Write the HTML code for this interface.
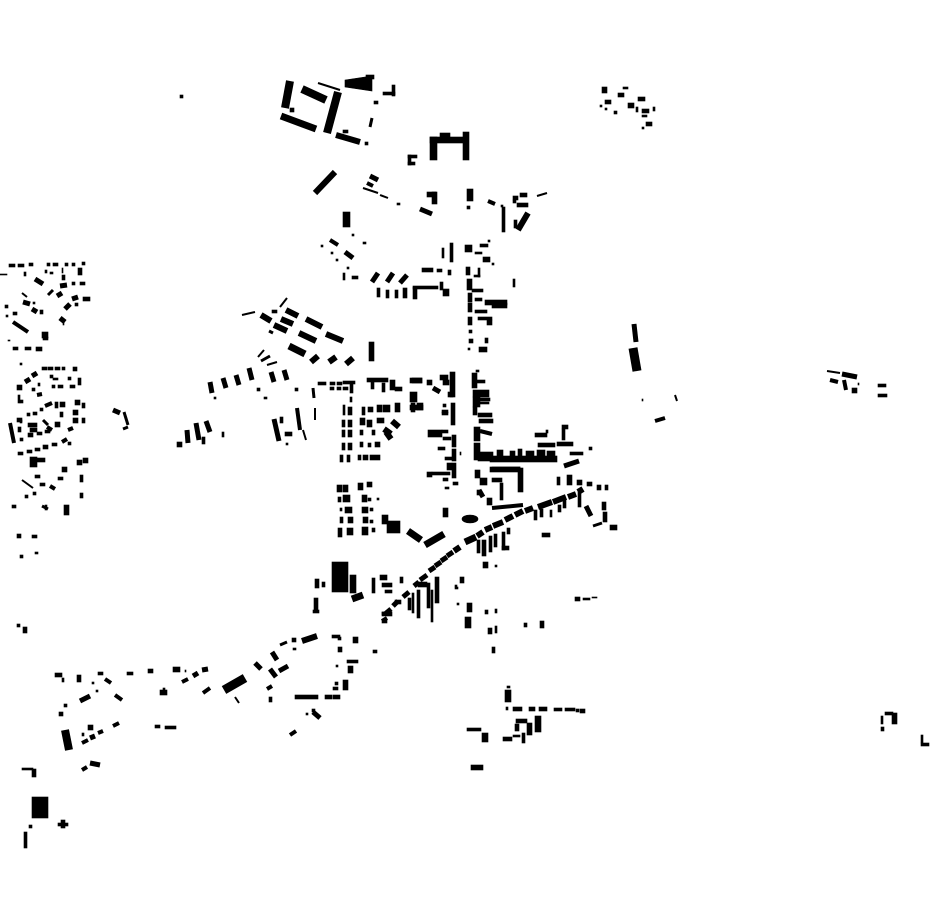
<!DOCTYPE html>
<html><head><meta charset="utf-8">
<style>html,body{margin:0;padding:0;background:#fff}svg{display:block}line{stroke:#000;stroke-linecap:butt}g.b rect,g.b polygon,g.b ellipse{stroke:#000;stroke-width:0.6}</style>
</head><body>
<svg width="930" height="924" viewBox="0 0 930 924" xmlns="http://www.w3.org/2000/svg">
<rect width="930" height="924" fill="#fff"/>
<g class="b" fill="#000">
<!-- top cluster -->
<rect x="180" y="95" width="3" height="3"/>
<line x1="290" y1="81" x2="285" y2="108" stroke-width="8"/>
<rect x="290" y="108" width="4" height="4"/>
<line x1="281" y1="116" x2="316" y2="129" stroke-width="7"/>
<line x1="302" y1="89" x2="326" y2="100" stroke-width="8"/>
<line x1="318" y1="83" x2="340" y2="90" stroke-width="2"/>
<line x1="338" y1="92" x2="327" y2="133" stroke-width="8"/>
<line x1="336" y1="135" x2="360" y2="142" stroke-width="6"/>
<rect x="343" y="130" width="5" height="3"/>
<rect x="365" y="142" width="3" height="3"/>
<polygon points="345,80 372,76 372,91 345,87"/>
<rect x="366" y="75" width="8" height="4"/>
<rect x="392" y="85" width="3" height="11"/>
<rect x="383" y="92" width="12" height="3"/>
<rect x="374" y="101" width="4" height="3"/>
<line x1="372" y1="118" x2="370" y2="127" stroke-width="3"/>
<rect x="430" y="137" width="7" height="23"/>
<rect x="430" y="137" width="35" height="6"/>
<rect x="440" y="133" width="10" height="5"/>
<rect x="463" y="132" width="6" height="28"/>
<rect x="408" y="155" width="3" height="10"/>
<rect x="408" y="155" width="9" height="3"/>
<rect x="408" y="162" width="7" height="3"/>
<line x1="315" y1="193" x2="335" y2="172" stroke-width="6"/>
<line x1="370" y1="176" x2="378" y2="180" stroke-width="5"/>
<line x1="367" y1="183" x2="373" y2="186" stroke-width="4"/>
<line x1="363" y1="188" x2="378" y2="193" stroke-width="2"/>
<line x1="380" y1="195" x2="388" y2="198" stroke-width="2"/>
<rect x="397" y="203" width="3" height="2"/>
<rect x="427" y="192" width="9" height="5"/>
<rect x="432" y="192" width="5" height="12"/>
<line x1="420" y1="209" x2="432" y2="214" stroke-width="5"/>
<rect x="467" y="189" width="6" height="12"/>
<rect x="467" y="206" width="3" height="3"/>
<line x1="488" y1="201" x2="495" y2="204" stroke-width="4"/>
<rect x="501" y="205" width="2" height="2"/>
<rect x="502" y="207" width="3" height="25"/>
<rect x="513" y="196" width="5" height="4"/>
<rect x="520" y="193" width="7" height="4"/>
<rect x="513" y="200" width="3" height="3"/>
<rect x="517" y="203" width="11" height="4"/>
<line x1="537" y1="196" x2="547" y2="193" stroke-width="2"/>
<line x1="518" y1="230" x2="528" y2="213" stroke-width="6"/>
<rect x="514" y="220" width="3" height="8"/>
<rect x="343" y="212" width="7" height="15"/>
<rect x="352" y="234" width="2" height="2"/>
<line x1="330" y1="240" x2="338" y2="245" stroke-width="4"/>
<rect x="321" y="245" width="2" height="2"/>
<line x1="345" y1="252" x2="353" y2="258" stroke-width="5"/>
<rect x="331" y="252" width="2" height="2"/>
<rect x="336" y="259" width="2" height="2"/>
<rect x="347" y="267" width="2" height="2"/>
<rect x="363" y="242" width="3" height="2"/>
<rect x="343" y="273" width="2" height="7"/>
<rect x="352" y="276" width="6" height="3"/>
<line x1="372" y1="282" x2="378" y2="273" stroke-width="5"/>
<line x1="387" y1="282" x2="393" y2="273" stroke-width="5"/>
<line x1="400" y1="283" x2="407" y2="275" stroke-width="5"/>
<rect x="377" y="288" width="3" height="9"/>
<rect x="386" y="290" width="3" height="8"/>
<rect x="395" y="290" width="3" height="8"/>
<rect x="403" y="288" width="4" height="10"/>
<rect x="413" y="287" width="4" height="12"/>
<rect x="413" y="286" width="25" height="3"/>
<rect x="440" y="282" width="3" height="8"/>
<rect x="443" y="289" width="6" height="7"/>
<!-- spine upper -->
<rect x="442" y="248" width="2" height="10"/>
<rect x="450" y="243" width="3" height="19"/>
<rect x="465" y="245" width="7" height="7"/>
<rect x="480" y="244" width="8" height="3"/>
<rect x="475" y="252" width="7" height="2"/>
<rect x="483" y="257" width="7" height="5"/>
<rect x="492" y="263" width="2" height="2"/>
<rect x="488" y="240" width="2" height="2"/>
<rect x="422" y="268" width="11" height="4"/>
<rect x="437" y="269" width="5" height="3"/>
<rect x="448" y="270" width="3" height="5"/>
<rect x="466" y="267" width="4" height="8"/>
<rect x="478" y="268" width="2" height="9"/>
<rect x="474" y="275" width="6" height="2"/>
<rect x="467" y="279" width="5" height="11"/>
<rect x="472" y="289" width="11" height="3"/>
<rect x="468" y="293" width="4" height="9"/>
<rect x="475" y="298" width="7" height="3"/>
<rect x="485" y="300" width="22" height="5"/>
<rect x="492" y="303" width="15" height="5"/>
<rect x="468" y="303" width="4" height="9"/>
<rect x="475" y="310" width="12" height="3"/>
<rect x="468" y="317" width="4" height="8"/>
<rect x="478" y="317" width="14" height="3"/>
<rect x="487" y="320" width="5" height="5"/>
<rect x="469" y="330" width="3" height="3"/>
<rect x="469" y="339" width="4" height="4"/>
<rect x="485" y="338" width="3" height="5"/>
<rect x="479" y="347" width="8" height="5"/>
<rect x="468" y="348" width="2" height="2"/>
<rect x="513" y="279" width="2" height="8"/>
<!-- spine lower -->
<rect x="472" y="373" width="5" height="15"/>
<rect x="476" y="370" width="3" height="2"/>
<rect x="477" y="380" width="8" height="3"/>
<rect x="473" y="390" width="16" height="7"/>
<rect x="473" y="397" width="7" height="10"/>
<rect x="480" y="398" width="10" height="3"/>
<rect x="477" y="402" width="12" height="2"/>
<rect x="473" y="407" width="4" height="8"/>
<rect x="478" y="413" width="14" height="4"/>
<rect x="479" y="419" width="14" height="4"/>
<rect x="474" y="427" width="6" height="14"/>
<line x1="480" y1="431" x2="492" y2="434" stroke-width="4"/>
<rect x="474" y="443" width="6" height="17"/>
<rect x="478" y="452" width="15" height="9"/>
<rect x="490" y="456" width="67" height="6"/>
<rect x="497" y="450" width="6" height="6"/>
<rect x="510" y="451" width="5" height="5"/>
<rect x="518" y="449" width="4" height="7"/>
<rect x="526" y="451" width="8" height="5"/>
<rect x="537" y="450" width="8" height="6"/>
<rect x="547" y="451" width="8" height="5"/>
<rect x="535" y="433" width="12" height="4"/>
<rect x="546" y="430" width="2" height="3"/>
<rect x="562" y="425" width="6" height="4"/>
<rect x="562" y="429" width="3" height="11"/>
<rect x="557" y="442" width="16" height="4"/>
<rect x="538" y="443" width="17" height="4"/>
<rect x="570" y="452" width="13" height="3"/>
<rect x="589" y="447" width="3" height="3"/>
<line x1="564" y1="466" x2="579" y2="461" stroke-width="5"/>
<rect x="492" y="467" width="28" height="3"/>
<!-- left of spine lower -->
<rect x="440" y="375" width="8" height="5"/>
<rect x="443" y="380" width="6" height="5"/>
<rect x="450" y="372" width="5" height="25"/>
<rect x="448" y="392" width="5" height="5"/>
<rect x="412" y="378" width="10" height="5"/>
<rect x="410" y="392" width="7" height="10"/>
<rect x="411" y="403" width="4" height="9"/>
<rect x="417" y="403" width="6" height="7"/>
<rect x="427" y="380" width="5" height="5"/>
<line x1="433" y1="388" x2="440" y2="392" stroke-width="5"/>
<rect x="442" y="412" width="6" height="3"/>
<rect x="451" y="403" width="4" height="22"/>
<rect x="443" y="404" width="3" height="3"/>
<rect x="442" y="410" width="6" height="3"/>
<rect x="428" y="430" width="14" height="7"/>
<rect x="442" y="430" width="6" height="3"/>
<rect x="443" y="437" width="8" height="3"/>
<rect x="452" y="435" width="4" height="12"/>
<rect x="452" y="449" width="4" height="12"/>
<rect x="452" y="463" width="4" height="15"/>
<rect x="438" y="447" width="7" height="3"/>
<rect x="445" y="457" width="8" height="3"/>
<rect x="460" y="452" width="1" height="3"/>
<rect x="447" y="463" width="5" height="7"/>
<rect x="427" y="472" width="5" height="5"/>
<rect x="432" y="472" width="18" height="3"/>
<rect x="443" y="478" width="5" height="3"/>
<rect x="445" y="487" width="4" height="2"/>
<rect x="453" y="482" width="5" height="3"/>
<rect x="443" y="508" width="5" height="9"/>
<rect x="475" y="470" width="5" height="8"/>
<rect x="477" y="490" width="3" height="5"/>
<!-- center block -->
<rect x="330" y="382" width="5" height="3"/>
<rect x="337" y="382" width="5" height="3"/>
<rect x="343" y="381" width="12" height="3"/>
<rect x="330" y="387" width="4" height="3"/>
<rect x="337" y="387" width="4" height="3"/>
<rect x="343" y="387" width="5" height="3"/>
<rect x="318" y="382" width="8" height="3"/>
<rect x="350" y="384" width="3" height="9"/>
<rect x="350" y="397" width="2" height="5"/>
<rect x="367" y="378" width="21" height="4"/>
<rect x="371" y="382" width="3" height="7"/>
<rect x="382" y="383" width="3" height="9"/>
<rect x="390" y="380" width="5" height="10"/>
<rect x="395" y="387" width="7" height="4"/>
<rect x="410" y="378" width="12" height="5"/>
<rect x="410" y="405" width="7" height="5"/>
<rect x="417" y="405" width="6" height="5"/>
<rect x="343" y="405" width="2" height="10"/>
<rect x="348" y="407" width="4" height="8"/>
<rect x="362" y="407" width="3" height="8"/>
<rect x="368" y="407" width="5" height="5"/>
<rect x="377" y="405" width="5" height="7"/>
<rect x="383" y="405" width="7" height="7"/>
<rect x="395" y="403" width="5" height="9"/>
<rect x="342" y="420" width="3" height="7"/>
<rect x="348" y="420" width="4" height="7"/>
<rect x="360" y="418" width="5" height="7"/>
<rect x="367" y="420" width="5" height="7"/>
<rect x="377" y="418" width="7" height="5"/>
<line x1="392" y1="421" x2="399" y2="427" stroke-width="6"/>
<line x1="384" y1="429" x2="391" y2="434" stroke-width="6"/>
<rect x="342" y="430" width="3" height="7"/>
<rect x="348" y="430" width="4" height="7"/>
<rect x="360" y="430" width="3" height="5"/>
<rect x="372" y="430" width="3" height="5"/>
<line x1="386" y1="432" x2="391" y2="439" stroke-width="6"/>
<rect x="342" y="443" width="3" height="7"/>
<rect x="348" y="443" width="4" height="7"/>
<rect x="360" y="442" width="3" height="5"/>
<rect x="368" y="443" width="3" height="4"/>
<rect x="375" y="442" width="5" height="5"/>
<rect x="340" y="455" width="3" height="7"/>
<rect x="347" y="455" width="3" height="7"/>
<rect x="358" y="455" width="3" height="5"/>
<rect x="363" y="455" width="5" height="5"/>
<rect x="370" y="455" width="10" height="5"/>
<rect x="337" y="485" width="5" height="7"/>
<rect x="343" y="485" width="5" height="7"/>
<rect x="358" y="483" width="5" height="7"/>
<rect x="367" y="482" width="5" height="5"/>
<rect x="338" y="497" width="3" height="5"/>
<rect x="343" y="495" width="7" height="7"/>
<rect x="362" y="495" width="5" height="7"/>
<rect x="368" y="498" width="3" height="3"/>
<rect x="377" y="498" width="2" height="2"/>
<rect x="345" y="507" width="7" height="6"/>
<rect x="362" y="507" width="6" height="6"/>
<rect x="370" y="508" width="3" height="3"/>
<rect x="340" y="508" width="2" height="3"/>
<rect x="340" y="517" width="3" height="6"/>
<rect x="348" y="517" width="5" height="6"/>
<rect x="363" y="517" width="5" height="6"/>
<rect x="370" y="520" width="3" height="3"/>
<rect x="338" y="528" width="4" height="9"/>
<rect x="347" y="528" width="6" height="7"/>
<rect x="362" y="527" width="6" height="8"/>
<rect x="372" y="528" width="3" height="4"/>
<rect x="382" y="515" width="6" height="9"/>
<rect x="387" y="521" width="13" height="12"/>
<line x1="408" y1="531" x2="421" y2="540" stroke-width="7"/>
<line x1="425" y1="545" x2="444" y2="534" stroke-width="7"/>
<ellipse cx="470" cy="519" rx="8" ry="4"/>
<!-- road -->
<line x1="578" y1="492" x2="583" y2="489" stroke-width="6"/>
<line x1="568" y1="497" x2="576" y2="494" stroke-width="6"/>
<line x1="553" y1="502" x2="566" y2="497" stroke-width="6"/>
<line x1="538" y1="507" x2="552" y2="502" stroke-width="6"/>
<line x1="525" y1="511" x2="533" y2="508" stroke-width="6"/>
<line x1="515" y1="515" x2="523" y2="511" stroke-width="6"/>
<line x1="505" y1="520" x2="513" y2="516" stroke-width="6"/>
<line x1="493" y1="526" x2="503" y2="522" stroke-width="6"/>
<line x1="485" y1="530" x2="492" y2="527" stroke-width="6"/>
<line x1="477" y1="536" x2="483" y2="532" stroke-width="6"/>
<line x1="465" y1="542" x2="476" y2="537" stroke-width="7"/>
<line x1="454" y1="551" x2="460" y2="547" stroke-width="6"/>
<line x1="447" y1="556" x2="453" y2="552" stroke-width="5"/>
<line x1="441" y1="561" x2="447" y2="557" stroke-width="5"/>
<line x1="435" y1="566" x2="441" y2="562" stroke-width="5"/>
<line x1="429" y1="571" x2="435" y2="567" stroke-width="5"/>
<line x1="420" y1="580" x2="427" y2="575" stroke-width="5"/>
<line x1="414" y1="586" x2="419" y2="582" stroke-width="5"/>
<line x1="403" y1="597" x2="409" y2="592" stroke-width="5"/>
<line x1="393" y1="606" x2="398" y2="601" stroke-width="5"/>
<line x1="385" y1="614" x2="391" y2="609" stroke-width="5"/>
<line x1="382" y1="621" x2="387" y2="618" stroke-width="4"/>
<rect x="477" y="540" width="3" height="13"/>
<rect x="482" y="540" width="4" height="16"/>
<rect x="489" y="536" width="3" height="16"/>
<rect x="494" y="534" width="3" height="13"/>
<rect x="502" y="532" width="3" height="18"/>
<rect x="502" y="546" width="7" height="4"/>
<rect x="507" y="528" width="3" height="6"/>
<rect x="483" y="562" width="5" height="6"/>
<rect x="495" y="565" width="2" height="2"/>
<rect x="534" y="510" width="3" height="10"/>
<rect x="540" y="509" width="3" height="8"/>
<rect x="550" y="510" width="2" height="7"/>
<rect x="558" y="505" width="3" height="7"/>
<rect x="563" y="500" width="3" height="8"/>
<rect x="578" y="490" width="3" height="17"/>
<line x1="586" y1="506" x2="591" y2="516" stroke-width="5"/>
<rect x="602" y="502" width="4" height="8"/>
<rect x="603" y="512" width="4" height="10"/>
<rect x="610" y="525" width="7" height="5"/>
<line x1="593" y1="526" x2="602" y2="523" stroke-width="3"/>
<rect x="542" y="533" width="8" height="4"/>
<rect x="557" y="477" width="3" height="8"/>
<rect x="567" y="475" width="5" height="10"/>
<rect x="577" y="480" width="5" height="5"/>
<rect x="587" y="482" width="5" height="4"/>
<rect x="597" y="485" width="4" height="5"/>
<rect x="605" y="485" width="3" height="5"/>
<rect x="490" y="467" width="30" height="5"/>
<rect x="518" y="468" width="5" height="24"/>
<rect x="480" y="478" width="7" height="7"/>
<line x1="479" y1="490" x2="483" y2="497" stroke-width="5"/>
<rect x="487" y="498" width="5" height="7"/>
<line x1="492" y1="508" x2="523" y2="505" stroke-width="4"/>
<rect x="500" y="483" width="3" height="17"/>
<rect x="492" y="478" width="10" height="4"/>
<!-- southwest of road -->
<rect x="332" y="562" width="16" height="30"/>
<rect x="350" y="575" width="6" height="18"/>
<line x1="352" y1="599" x2="363" y2="595" stroke-width="7"/>
<rect x="322" y="582" width="3" height="5"/>
<rect x="315" y="579" width="4" height="9"/>
<rect x="314" y="598" width="4" height="13"/>
<rect x="372" y="578" width="3" height="15"/>
<rect x="380" y="575" width="7" height="5"/>
<rect x="382" y="583" width="10" height="4"/>
<rect x="385" y="590" width="7" height="3"/>
<rect x="400" y="577" width="3" height="6"/>
<rect x="418" y="582" width="9" height="5"/>
<rect x="412" y="593" width="2" height="20"/>
<rect x="417" y="590" width="3" height="28"/>
<rect x="427" y="583" width="3" height="25"/>
<rect x="431" y="590" width="2" height="32"/>
<rect x="435" y="577" width="4" height="26"/>
<rect x="408" y="598" width="3" height="12"/>
<rect x="395" y="600" width="6" height="4"/>
<rect x="382" y="612" width="10" height="4"/>
<rect x="382" y="620" width="5" height="3"/>
<rect x="455" y="585" width="2" height="2"/>
<rect x="460" y="577" width="4" height="6"/>
<rect x="455" y="587" width="3" height="2"/>
<rect x="457" y="603" width="2" height="2"/>
<rect x="467" y="603" width="5" height="9"/>
<rect x="465" y="617" width="6" height="11"/>
<rect x="485" y="610" width="3" height="4"/>
<rect x="495" y="609" width="2" height="4"/>
<rect x="488" y="628" width="4" height="6"/>
<rect x="495" y="626" width="2" height="7"/>
<rect x="492" y="647" width="3" height="6"/>
<rect x="524" y="623" width="3" height="4"/>
<rect x="540" y="621" width="4" height="7"/>
<rect x="575" y="597" width="5" height="4"/>
<rect x="583" y="598" width="7" height="2"/>
<rect x="592" y="597" width="5" height="1"/>
<!-- south cluster -->
<rect x="507" y="686" width="3" height="2"/>
<rect x="505" y="690" width="6" height="12"/>
<rect x="506" y="707" width="2" height="3"/>
<rect x="513" y="707" width="9" height="4"/>
<rect x="529" y="707" width="6" height="4"/>
<rect x="539" y="707" width="8" height="4"/>
<rect x="554" y="708" width="8" height="3"/>
<rect x="565" y="708" width="10" height="3"/>
<rect x="576" y="709" width="3" height="3"/>
<rect x="580" y="709" width="5" height="4"/>
<rect x="516" y="719" width="11" height="4"/>
<rect x="515" y="724" width="4" height="7"/>
<rect x="527" y="723" width="5" height="12"/>
<rect x="535" y="716" width="6" height="16"/>
<rect x="503" y="737" width="9" height="4"/>
<rect x="513" y="735" width="7" height="2"/>
<rect x="522" y="733" width="3" height="10"/>
<rect x="467" y="728" width="14" height="3"/>
<rect x="482" y="733" width="6" height="9"/>
<rect x="471" y="765" width="12" height="5"/>
<!-- grid west -->
<line x1="242" y1="315" x2="255" y2="312" stroke-width="2"/>
<line x1="280" y1="307" x2="287" y2="298" stroke-width="2"/>
<line x1="261" y1="315" x2="271" y2="321" stroke-width="6"/>
<rect x="272" y="310" width="5" height="3"/>
<line x1="286" y1="310" x2="298" y2="316" stroke-width="6"/>
<line x1="281" y1="319" x2="293" y2="324" stroke-width="6"/>
<line x1="306" y1="319" x2="322" y2="327" stroke-width="6"/>
<line x1="274" y1="325" x2="287" y2="331" stroke-width="6"/>
<line x1="299" y1="333" x2="316" y2="341" stroke-width="6"/>
<line x1="326" y1="334" x2="343" y2="341" stroke-width="6"/>
<line x1="269" y1="331" x2="273" y2="333" stroke-width="3"/>
<line x1="289" y1="346" x2="305" y2="354" stroke-width="7"/>
<line x1="311" y1="362" x2="318" y2="356" stroke-width="6"/>
<line x1="329" y1="362" x2="336" y2="357" stroke-width="6"/>
<line x1="346" y1="364" x2="353" y2="358" stroke-width="6"/>
<rect x="369" y="342" width="5" height="19"/>
<line x1="258" y1="357" x2="264" y2="350" stroke-width="2"/>
<line x1="261" y1="361" x2="270" y2="356" stroke-width="3"/>
<line x1="267" y1="365" x2="277" y2="362" stroke-width="2"/>
<line x1="210" y1="382" x2="212" y2="393" stroke-width="5"/>
<line x1="223" y1="378" x2="226" y2="388" stroke-width="5"/>
<line x1="236" y1="375" x2="239" y2="385" stroke-width="5"/>
<line x1="249" y1="368" x2="252" y2="380" stroke-width="5"/>
<line x1="271" y1="372" x2="274" y2="382" stroke-width="5"/>
<line x1="284" y1="370" x2="287" y2="380" stroke-width="5"/>
<rect x="214" y="397" width="2" height="2"/>
<rect x="257" y="388" width="3" height="3"/>
<rect x="264" y="397" width="3" height="2"/>
<rect x="295" y="388" width="3" height="3"/>
<line x1="313" y1="388" x2="314" y2="398" stroke-width="3"/>
<rect x="177" y="442" width="5" height="5"/>
<line x1="187" y1="430" x2="188" y2="443" stroke-width="5"/>
<line x1="196" y1="423" x2="199" y2="440" stroke-width="5"/>
<line x1="206" y1="421" x2="210" y2="432" stroke-width="5"/>
<rect x="202" y="437" width="3" height="7"/>
<rect x="222" y="432" width="2" height="5"/>
<line x1="274" y1="419" x2="279" y2="441" stroke-width="5"/>
<rect x="280" y="417" width="3" height="6"/>
<rect x="285" y="432" width="7" height="4"/>
<line x1="297" y1="408" x2="300" y2="430" stroke-width="4"/>
<line x1="303" y1="430" x2="306" y2="440" stroke-width="2"/>
<line x1="315" y1="408" x2="315" y2="420" stroke-width="2"/>
<rect x="286" y="443" width="2" height="2"/>
<!-- far-left cluster -->
<rect x="9" y="264" width="6" height="3"/>
<rect x="18" y="264" width="6" height="3"/>
<rect x="29" y="263" width="4" height="3"/>
<rect x="47" y="263" width="3" height="3"/>
<rect x="53" y="263" width="5" height="3"/>
<rect x="65" y="263" width="3" height="3"/>
<rect x="72" y="263" width="3" height="3"/>
<rect x="82" y="262" width="3" height="3"/>
<rect x="0" y="274" width="7" height="1"/>
<rect x="24" y="272" width="2" height="4"/>
<rect x="45" y="270" width="2" height="3"/>
<rect x="50" y="272" width="3" height="2"/>
<rect x="62" y="268" width="1" height="5"/>
<rect x="78" y="268" width="4" height="7"/>
<line x1="35" y1="279" x2="43" y2="284" stroke-width="5"/>
<rect x="62" y="275" width="3" height="5"/>
<line x1="60" y1="286" x2="67" y2="285" stroke-width="5"/>
<rect x="72" y="282" width="3" height="3"/>
<rect x="80" y="282" width="5" height="3"/>
<line x1="48" y1="295" x2="53" y2="290" stroke-width="3"/>
<line x1="57" y1="296" x2="62" y2="293" stroke-width="5"/>
<line x1="22" y1="293" x2="27" y2="297" stroke-width="2"/>
<line x1="72" y1="299" x2="78" y2="297" stroke-width="5"/>
<rect x="83" y="297" width="7" height="4"/>
<line x1="23" y1="302" x2="30" y2="304" stroke-width="5"/>
<rect x="33" y="302" width="2" height="2"/>
<line x1="32" y1="309" x2="37" y2="312" stroke-width="5"/>
<rect x="40" y="310" width="3" height="4"/>
<line x1="65" y1="309" x2="70" y2="304" stroke-width="5"/>
<rect x="75" y="303" width="3" height="3"/>
<rect x="5" y="305" width="3" height="3"/>
<rect x="13" y="312" width="4" height="3"/>
<rect x="6" y="315" width="2" height="2"/>
<line x1="13" y1="322" x2="28" y2="332" stroke-width="4"/>
<line x1="60" y1="318" x2="65" y2="322" stroke-width="5"/>
<rect x="63" y="323" width="1" height="2"/>
<rect x="42" y="332" width="6" height="6"/>
<rect x="43" y="337" width="5" height="3"/>
<rect x="8" y="340" width="2" height="1"/>
<rect x="13" y="347" width="5" height="3"/>
<rect x="25" y="347" width="6" height="3"/>
<rect x="36" y="347" width="6" height="4"/>
<rect x="20" y="363" width="2" height="2"/>
<rect x="42" y="367" width="5" height="3"/>
<rect x="48" y="367" width="5" height="3"/>
<rect x="55" y="367" width="5" height="3"/>
<rect x="62" y="367" width="3" height="3"/>
<rect x="73" y="367" width="4" height="4"/>
<line x1="32" y1="376" x2="37" y2="373" stroke-width="5"/>
<line x1="25" y1="382" x2="30" y2="379" stroke-width="5"/>
<rect x="17" y="385" width="5" height="5"/>
<rect x="50" y="375" width="3" height="3"/>
<rect x="53" y="378" width="5" height="2"/>
<rect x="68" y="377" width="3" height="3"/>
<rect x="78" y="378" width="3" height="7"/>
<rect x="52" y="385" width="3" height="3"/>
<rect x="58" y="385" width="5" height="3"/>
<rect x="70" y="385" width="5" height="3"/>
<rect x="38" y="383" width="2" height="3"/>
<rect x="32" y="388" width="3" height="3"/>
<line x1="37" y1="395" x2="42" y2="394" stroke-width="4"/>
<rect x="18" y="395" width="2" height="8"/>
<rect x="20" y="400" width="3" height="3"/>
<line x1="45" y1="406" x2="52" y2="403" stroke-width="4"/>
<rect x="55" y="402" width="3" height="6"/>
<rect x="60" y="402" width="5" height="5"/>
<rect x="75" y="400" width="5" height="5"/>
<rect x="82" y="403" width="3" height="5"/>
<rect x="40" y="408" width="3" height="3"/>
<rect x="33" y="412" width="4" height="3"/>
<rect x="27" y="413" width="3" height="3"/>
<rect x="17" y="418" width="5" height="4"/>
<rect x="60" y="412" width="3" height="5"/>
<rect x="73" y="410" width="5" height="5"/>
<line x1="10" y1="423" x2="14" y2="443" stroke-width="4"/>
<rect x="20" y="420" width="2" height="3"/>
<rect x="18" y="427" width="3" height="5"/>
<rect x="20" y="438" width="3" height="3"/>
<rect x="28" y="423" width="9" height="4"/>
<rect x="30" y="428" width="7" height="4"/>
<line x1="43" y1="420" x2="48" y2="425" stroke-width="3"/>
<line x1="47" y1="427" x2="52" y2="430" stroke-width="4"/>
<rect x="55" y="422" width="5" height="5"/>
<rect x="73" y="418" width="5" height="5"/>
<rect x="82" y="418" width="3" height="5"/>
<rect x="28" y="433" width="5" height="4"/>
<rect x="37" y="432" width="5" height="3"/>
<rect x="45" y="430" width="5" height="3"/>
<line x1="68" y1="430" x2="73" y2="428" stroke-width="4"/>
<rect x="18" y="452" width="5" height="3"/>
<rect x="27" y="450" width="5" height="3"/>
<rect x="35" y="448" width="5" height="3"/>
<rect x="43" y="445" width="5" height="4"/>
<rect x="52" y="443" width="5" height="3"/>
<line x1="62" y1="442" x2="67" y2="439" stroke-width="4"/>
<rect x="68" y="442" width="3" height="3"/>
<rect x="30" y="457" width="7" height="10"/>
<rect x="32" y="458" width="13" height="4"/>
<rect x="62" y="467" width="5" height="5"/>
<rect x="77" y="460" width="5" height="5"/>
<rect x="83" y="458" width="5" height="5"/>
<rect x="35" y="475" width="5" height="3"/>
<line x1="22" y1="480" x2="33" y2="488" stroke-width="2"/>
<rect x="40" y="483" width="5" height="3"/>
<line x1="50" y1="486" x2="55" y2="489" stroke-width="4"/>
<rect x="58" y="477" width="5" height="3"/>
<rect x="80" y="475" width="3" height="7"/>
<rect x="25" y="495" width="3" height="3"/>
<rect x="33" y="492" width="3" height="3"/>
<rect x="80" y="493" width="3" height="5"/>
<rect x="12" y="505" width="4" height="3"/>
<line x1="42" y1="506" x2="48" y2="509" stroke-width="3"/>
<rect x="45" y="505" width="2" height="5"/>
<rect x="64" y="505" width="5" height="10"/>
<rect x="17" y="534" width="4" height="4"/>
<rect x="32" y="535" width="5" height="3"/>
<rect x="20" y="555" width="3" height="3"/>
<rect x="35" y="552" width="3" height="2"/>
<line x1="113" y1="410" x2="120" y2="413" stroke-width="5"/>
<line x1="124" y1="412" x2="128" y2="425" stroke-width="3"/>
<line x1="123" y1="429" x2="128" y2="427" stroke-width="3"/>
<!-- bottom-left -->
<rect x="17" y="624" width="3" height="3"/>
<rect x="23" y="627" width="4" height="6"/>
<rect x="55" y="673" width="7" height="4"/>
<rect x="62" y="678" width="2" height="4"/>
<rect x="77" y="675" width="4" height="7"/>
<rect x="98" y="672" width="5" height="3"/>
<line x1="105" y1="679" x2="111" y2="683" stroke-width="4"/>
<rect x="127" y="672" width="6" height="3"/>
<rect x="148" y="669" width="5" height="4"/>
<rect x="173" y="667" width="7" height="5"/>
<rect x="185" y="670" width="1" height="2"/>
<line x1="182" y1="682" x2="188" y2="679" stroke-width="4"/>
<line x1="193" y1="676" x2="198" y2="673" stroke-width="5"/>
<line x1="202" y1="670" x2="208" y2="669" stroke-width="5"/>
<line x1="80" y1="701" x2="90" y2="696" stroke-width="5"/>
<rect x="96" y="690" width="2" height="2"/>
<rect x="92" y="682" width="2" height="2"/>
<line x1="115" y1="695" x2="122" y2="700" stroke-width="4"/>
<rect x="64" y="704" width="3" height="3"/>
<rect x="59" y="712" width="4" height="4"/>
<rect x="160" y="690" width="7" height="5"/>
<rect x="163" y="688" width="2" height="3"/>
<line x1="203" y1="693" x2="210" y2="688" stroke-width="4"/>
<line x1="224" y1="690" x2="245" y2="678" stroke-width="9"/>
<line x1="235" y1="697" x2="239" y2="703" stroke-width="2"/>
<line x1="255" y1="663" x2="261" y2="669" stroke-width="5"/>
<line x1="272" y1="652" x2="277" y2="660" stroke-width="5"/>
<line x1="270" y1="669" x2="276" y2="677" stroke-width="5"/>
<line x1="279" y1="671" x2="288" y2="666" stroke-width="5"/>
<line x1="267" y1="689" x2="272" y2="686" stroke-width="4"/>
<rect x="269" y="697" width="3" height="5"/>
<line x1="280" y1="645" x2="287" y2="642" stroke-width="3"/>
<rect x="292" y="638" width="4" height="4"/>
<rect x="293" y="648" width="3" height="2"/>
<line x1="302" y1="641" x2="317" y2="636" stroke-width="6"/>
<rect x="313" y="610" width="6" height="3"/>
<rect x="382" y="612" width="5" height="3"/>
<rect x="332" y="635" width="8" height="3"/>
<rect x="338" y="637" width="3" height="3"/>
<rect x="338" y="647" width="4" height="5"/>
<rect x="353" y="637" width="5" height="6"/>
<rect x="373" y="650" width="4" height="3"/>
<rect x="347" y="660" width="11" height="3"/>
<rect x="348" y="666" width="5" height="7"/>
<rect x="336" y="665" width="2" height="2"/>
<rect x="335" y="682" width="3" height="3"/>
<rect x="333" y="687" width="5" height="3"/>
<rect x="343" y="680" width="5" height="10"/>
<rect x="295" y="695" width="23" height="4"/>
<rect x="325" y="695" width="7" height="4"/>
<rect x="333" y="695" width="7" height="4"/>
<line x1="313" y1="712" x2="320" y2="718" stroke-width="5"/>
<rect x="312" y="709" width="3" height="3"/>
<rect x="306" y="713" width="2" height="2"/>
<line x1="290" y1="735" x2="296" y2="731" stroke-width="4"/>
<line x1="65" y1="730" x2="69" y2="750" stroke-width="8"/>
<rect x="82" y="733" width="2" height="3"/>
<rect x="88" y="725" width="5" height="5"/>
<line x1="82" y1="743" x2="88" y2="740" stroke-width="4"/>
<line x1="90" y1="738" x2="95" y2="736" stroke-width="5"/>
<line x1="98" y1="733" x2="103" y2="731" stroke-width="4"/>
<line x1="113" y1="726" x2="119" y2="723" stroke-width="4"/>
<rect x="155" y="725" width="5" height="3"/>
<rect x="165" y="726" width="11" height="3"/>
<line x1="82" y1="770" x2="87" y2="767" stroke-width="4"/>
<line x1="90" y1="763" x2="100" y2="765" stroke-width="5"/>
<rect x="22" y="768" width="11" height="2"/>
<rect x="32" y="769" width="4" height="8"/>
<rect x="32" y="797" width="16" height="21"/>
<rect x="58" y="823" width="10" height="3"/>
<rect x="61" y="820" width="4" height="8"/>
<rect x="29" y="825" width="3" height="3"/>
<rect x="24" y="832" width="3" height="16"/>
<!-- northeast cluster -->
<rect x="602" y="87" width="5" height="6"/>
<rect x="623" y="87" width="5" height="2"/>
<rect x="618" y="93" width="6" height="4"/>
<rect x="638" y="97" width="7" height="4"/>
<rect x="605" y="100" width="6" height="4"/>
<rect x="600" y="105" width="2" height="2"/>
<rect x="605" y="108" width="2" height="2"/>
<rect x="614" y="111" width="3" height="3"/>
<rect x="628" y="103" width="6" height="5"/>
<rect x="636" y="107" width="2" height="5"/>
<rect x="642" y="109" width="7" height="4"/>
<rect x="653" y="107" width="2" height="4"/>
<rect x="642" y="115" width="5" height="2"/>
<rect x="646" y="122" width="6" height="4"/>
<rect x="642" y="127" width="2" height="2"/>
<!-- east -->
<line x1="634" y1="324" x2="636" y2="342" stroke-width="5"/>
<line x1="633" y1="348" x2="637" y2="371" stroke-width="9"/>
<rect x="642" y="399" width="1" height="2"/>
<line x1="675" y1="395" x2="677" y2="401" stroke-width="2"/>
<line x1="655" y1="421" x2="665" y2="418" stroke-width="4"/>
<line x1="827" y1="371" x2="840" y2="373" stroke-width="2"/>
<line x1="842" y1="374" x2="857" y2="377" stroke-width="5"/>
<line x1="830" y1="380" x2="838" y2="382" stroke-width="4"/>
<line x1="844" y1="380" x2="846" y2="390" stroke-width="4"/>
<rect x="852" y="388" width="5" height="5"/>
<rect x="858" y="383" width="1" height="2"/>
<rect x="878" y="384" width="8" height="3"/>
<rect x="878" y="394" width="9" height="3"/>
<rect x="885" y="712" width="8" height="3"/>
<rect x="892" y="713" width="5" height="11"/>
<rect x="881" y="716" width="2" height="8"/>
<rect x="881" y="727" width="3" height="4"/>
<rect x="921" y="735" width="2" height="8"/>
<rect x="921" y="743" width="8" height="3"/>
</g>
</svg>
</body></html>
